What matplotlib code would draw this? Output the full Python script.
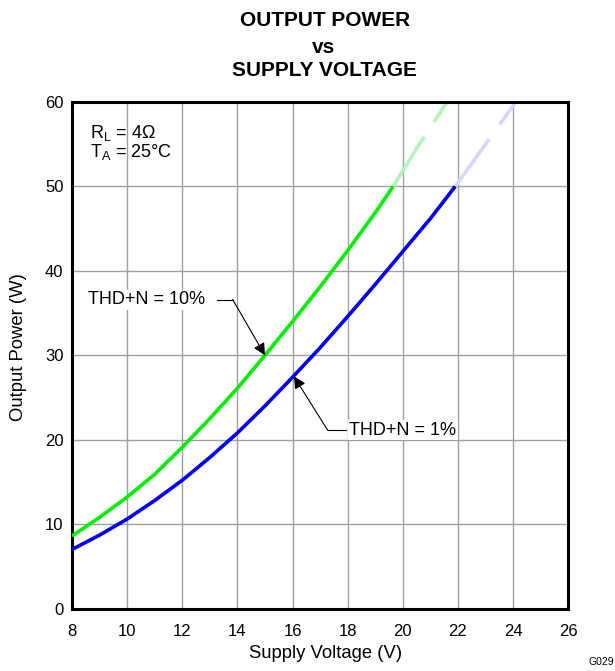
import matplotlib
matplotlib.use('Agg')
import matplotlib.pyplot as plt

plt.rcParams['font.family'] = ['Liberation Sans', 'DejaVu Sans']
plt.rcParams['mathtext.fontset'] = 'custom'
plt.rcParams['mathtext.rm'] = 'Liberation Sans'
plt.rcParams['lines.scale_dashes'] = False

# ______________________________ Datos ______________________________

v_10 = [8, 9, 10, 11, 12, 13, 14, 15, 16, 17, 18, 19, 19.65]
p_10 = [8.6, 10.8, 13.2, 15.9, 19.1, 22.5, 26.1, 30.0, 34.0, 38.1, 42.4, 46.9, 50.0]
v_10_ext = [19.65, 20.6, 21.6]
p_10_ext = [50.0, 55.0, 60.0]

v_1 = [8, 9, 10, 11, 12, 13, 14, 15, 16, 17, 18, 19, 20, 21, 21.9]
p_1 = [7.0, 8.7, 10.6, 12.8, 15.2, 17.9, 20.8, 24.0, 27.4, 30.9, 34.6, 38.4, 42.3, 46.2, 50.0]
v_1_ext = [21.9, 23.0, 24.1]
p_1_ext = [50.0, 55.0, 60.0]

x_ticks = [8, 10, 12, 14, 16, 18, 20, 22, 24, 26]
y_ticks = [0, 10, 20, 30, 40, 50, 60]

# ______________________________ Figura ______________________________

fig = plt.figure(figsize=(6.15, 6.71), dpi=100)
ax = fig.add_axes([0.117, 0.093, 0.807, 0.755])

ax.plot(v_10, p_10, color='#00ee00', lw=2.6, solid_capstyle='butt',
        solid_joinstyle='round', zorder=3)
ax.plot(v_1, p_1, color='#0000ee', lw=2.6, solid_capstyle='butt',
        solid_joinstyle='round', zorder=3)
ax.plot(v_10_ext, p_10_ext, color='#b2f5bb', lw=2.6, dashes=(42, 13),
        dash_capstyle='butt', zorder=2)
ax.plot(v_1_ext, p_1_ext, color='#d6d6ff', lw=2.6, dashes=(42, 13),
        dash_capstyle='butt', zorder=2)

ax.set_xlim(8, 26)
ax.set_ylim(0, 60)
ax.set_xticks(x_ticks)
ax.set_yticks(y_ticks)
ax.grid(True, color='#a0a0a0', lw=1.0)
ax.set_axisbelow(True)
ax.tick_params(length=0, labelsize=12)
ax.tick_params(axis='x', pad=11)
ax.tick_params(axis='y', pad=6)
for s in ax.spines.values():
    s.set_linewidth(2.2)
    s.set_color('black')

ax.set_xlabel('Supply Voltage (V)', fontsize=13.3)
ax.xaxis.set_label_coords(0.51, -0.072)
ax.set_ylabel('Output Power (W)', fontsize=13.3)
ax.yaxis.set_label_coords(-0.091, 0.516)

fig.text(0.528, 0.9613, 'OUTPUT POWER', ha='center', va='baseline',
         fontsize=15, fontweight='bold')
fig.text(0.526, 0.9206, 'vs', ha='center', va='baseline',
         fontsize=15, fontweight='bold')
fig.text(0.528, 0.8867, 'SUPPLY VOLTAGE', ha='center', va='baseline',
         fontsize=15, fontweight='bold')
fig.text(0.977, 0.014, 'G029', ha='center', va='center', fontsize=7.5)

ax.text(8.65, 56.3, 'R$_\\mathregular{L}$ = 4Ω', fontsize=13, va='center')
ax.text(8.65, 54.1, 'T$_\\mathregular{A}$ = 25°C', fontsize=13, va='center')

# anotaciones
ax.text(8.6, 36.6, 'THD+N = 10%', fontsize=13, va='center', ha='left',
        bbox=dict(facecolor='white', edgecolor='none', pad=1), zorder=4)
ax.plot([13.25, 13.83], [36.6, 36.6], color='black', lw=0.8, zorder=4)
ax.annotate('', xy=(15.0, 30.0), xytext=(13.83, 36.6),
            arrowprops=dict(arrowstyle='-|>', color='black', lw=0.8,
                            mutation_scale=18, shrinkA=0, shrinkB=0), zorder=4)

ax.text(18.05, 21.1, 'THD+N = 1%', fontsize=13, va='center', ha='left',
        bbox=dict(facecolor='white', edgecolor='none', pad=1), zorder=4)
ax.plot([17.28, 17.95], [21.1, 21.1], color='black', lw=0.8, zorder=4)
ax.annotate('', xy=(16.05, 27.5), xytext=(17.28, 21.1),
            arrowprops=dict(arrowstyle='-|>', color='black', lw=0.8,
                            mutation_scale=18, shrinkA=0, shrinkB=0), zorder=4)

fig.savefig('out.png', dpi=100)
